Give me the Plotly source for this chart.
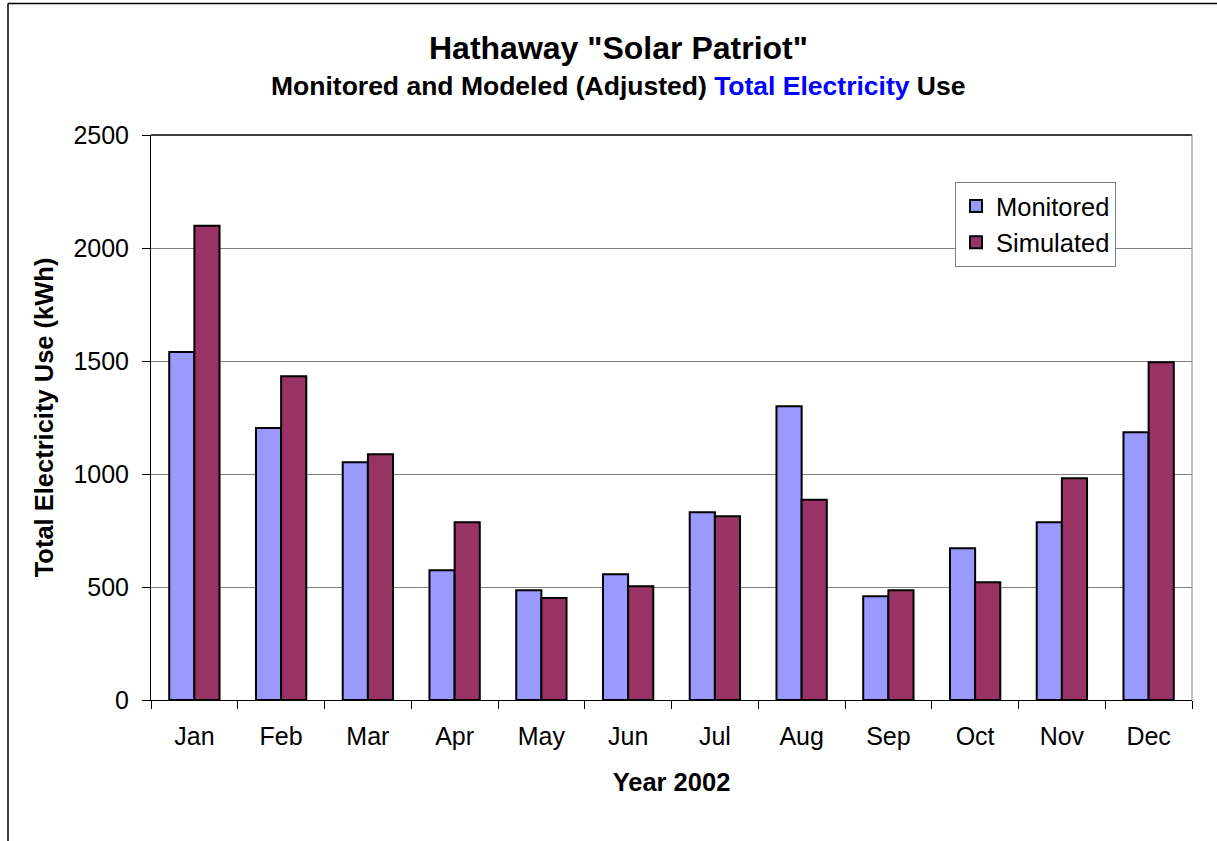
import plotly.graph_objects as go

months = ["Jan", "Feb", "Mar", "Apr", "May", "Jun", "Jul", "Aug", "Sep", "Oct", "Nov", "Dec"]
monitored = [1540, 1203, 1052, 574, 486, 556, 831, 1300, 459, 672, 787, 1185]
simulated = [2098, 1432, 1087, 786, 451, 503, 813, 886, 486, 521, 981, 1495]
y_ticks = [0, 500, 1000, 1500, 2000, 2500]

FONT = "Arial, Liberation Sans, sans-serif"
W, H = 1217, 841
ML, MR, MT, MB = 151, 25, 135, 141
PW = W - ML - MR
PH = H - MT - MB


def px_x(p):
    return (p - ML) / PW


def px_y(p):
    return (H - MB - p) / PH


fig = go.Figure()
fig.add_trace(go.Bar(
    x=months, y=monitored, name="Monitored",
    marker=dict(color="#9999FF", line=dict(color="#000000", width=2)),
))
fig.add_trace(go.Bar(
    x=months, y=simulated, name="Simulated",
    marker=dict(color="#993366", line=dict(color="#000000", width=2)),
))

fig.update_layout(
    width=W, height=H,
    margin=dict(l=ML, r=MR, t=MT, b=MB, autoexpand=False),
    paper_bgcolor="white", plot_bgcolor="white",
    barmode="group", bargap=0.42, bargroupgap=0,
    font=dict(family=FONT, color="black", size=25),
    showlegend=True,
    legend=dict(
        x=px_x(955), y=px_y(182), xanchor="left", yanchor="top",
        bgcolor="white", bordercolor="#808080", borderwidth=1,
        font=dict(size=25.5, family=FONT),
        traceorder="normal", itemwidth=30,
    ),
    xaxis=dict(
        type="category", tickson="boundaries", ticks="outside", ticklen=8,
        tickcolor="#000000", tickwidth=1,
        showline=True, linecolor="#000000", linewidth=1,
        showgrid=False, tickfont=dict(size=25), ticklabelstandoff=14,
        title=dict(text="<b>Year 2002</b>", font=dict(size=25.5), standoff=24),
    ),
    yaxis=dict(
        range=[0, 2500], tickvals=y_ticks, ticks="outside", ticklen=8,
        tickcolor="#000000", tickwidth=1,
        showline=True, linecolor="#000000", linewidth=1,
        showgrid=True, gridcolor="#808080", gridwidth=1,
        tickfont=dict(size=25), zeroline=False, ticklabelstandoff=8,
        title=dict(text="<b>Total Electricity Use (kWh)</b>", font=dict(size=25.5), standoff=12),
    ),
    annotations=[
        dict(text="<b>Hathaway \"Solar Patriot\"</b>", xref="paper", yref="paper",
             x=px_x(618), y=px_y(48), xanchor="center", yanchor="middle",
             showarrow=False, font=dict(size=32, family=FONT)),
        dict(text="<b>Monitored and Modeled (Adjusted) <span style='color:#0000FF'>Total Electricity</span> Use</b>",
             xref="paper", yref="paper",
             x=px_x(618), y=px_y(86), xanchor="center", yanchor="middle",
             showarrow=False, font=dict(size=26.5, family=FONT)),
    ],
    shapes=[
        # plot area top and right edges
        dict(type="line", xref="paper", yref="paper", x0=0, x1=1, y0=1, y1=1,
             line=dict(color="#404040", width=2)),
        dict(type="line", xref="paper", yref="paper", x0=1, x1=1, y0=0, y1=1,
             line=dict(color="#808080", width=1)),
        # chart frame
        dict(type="line", xref="paper", yref="paper", x0=px_x(8), x1=px_x(8),
             y0=px_y(3.5), y1=px_y(H + 5), line=dict(color="#000000", width=1.5)),
        dict(type="line", xref="paper", yref="paper", x0=px_x(8), x1=px_x(W + 5),
             y0=px_y(3.5), y1=px_y(3.5), line=dict(color="#000000", width=1.5)),
    ],
)

fig.write_html("out.html")
